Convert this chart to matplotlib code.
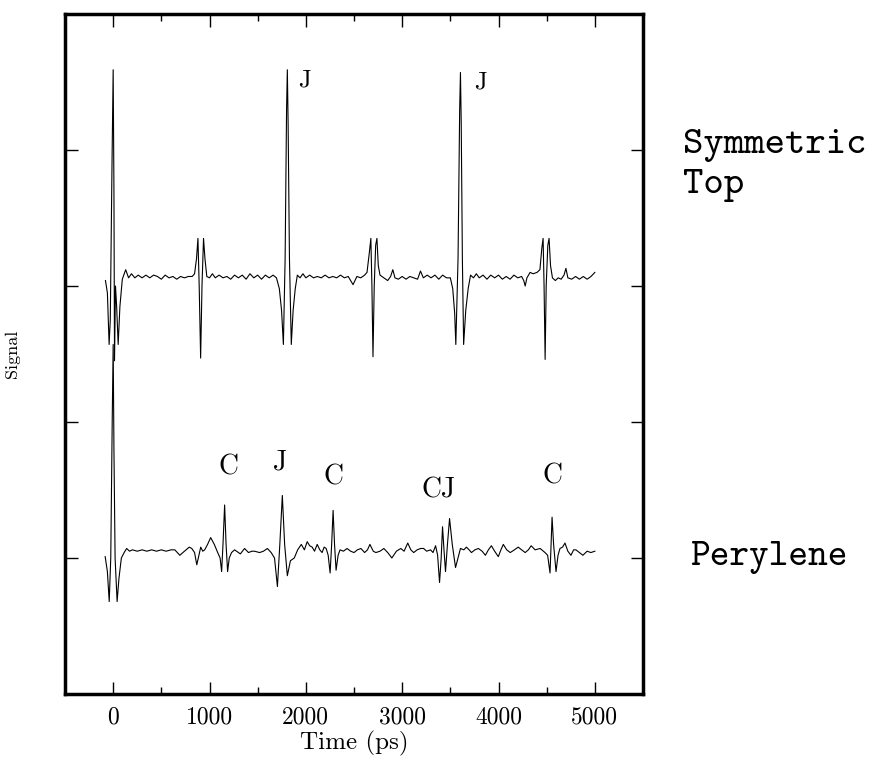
#Time-resolved signal traces: symmetric top model vs. perylene
import numpy as np
import matplotlib
matplotlib.use("Agg")
import matplotlib.pyplot as plt

plt.rcParams['font.family'] = ['cmr10', 'DejaVu Serif']
plt.rcParams['axes.formatter.use_mathtext'] = True

#Symmetric top trace (time in ps, signal in arbitrary units)
sym_t = [-80, -60, -42, -30, -12, 0, 8, 14, 24, 36, 52, 70, 95, 130, 160, 190, 225, 260, 300, 340,
         380, 420, 460, 500, 540, 580, 620, 660, 700, 740, 780, 820, 845, 865, 880, 893, 908, 922, 938, 953,
         972, 1000, 1030, 1060, 1100, 1140, 1180, 1220, 1260, 1300, 1340, 1380, 1420, 1460, 1500, 1540, 1580, 1620, 1660, 1695,
         1725, 1748, 1767, 1785, 1800, 1808, 1816, 1830, 1849, 1868, 1890, 1912, 1940, 1970, 2000, 2040, 2080, 2120, 2160, 2200,
         2240, 2280, 2320, 2360, 2400, 2440, 2490, 2530, 2570, 2610, 2635, 2660, 2675, 2686, 2697, 2710, 2725, 2738, 2752, 2770,
         2810, 2850, 2880, 2903, 2925, 2960, 3000, 3040, 3080, 3120, 3160, 3190, 3220, 3260, 3300, 3340, 3380, 3420, 3460, 3500,
         3525, 3545, 3557, 3580, 3597, 3605, 3613, 3625, 3638, 3660, 3685, 3710, 3740, 3770, 3800, 3840, 3880, 3920, 3960, 4000,
         4040, 4080, 4120, 4160, 4200, 4240, 4262, 4277, 4295, 4328, 4360, 4400, 4430, 4450, 4463, 4473, 4484, 4495, 4512, 4525,
         4540, 4560, 4590, 4620, 4650, 4680, 4700, 4720, 4760, 4800, 4840, 4880, 4920, 4960, 5000]
sym_y = [3.04, 2.95, 2.57, 2.75, 3.90, 4.59, 3.70, 2.45, 3.00, 2.85, 2.57, 2.85, 3.05, 3.12, 3.06, 3.09, 3.06, 3.08, 3.06, 3.08,
         3.06, 3.08, 3.07, 3.05, 3.08, 3.06, 3.07, 3.05, 3.07, 3.06, 3.07, 3.07, 3.09, 3.20, 3.35, 3.00, 2.47, 3.00, 3.35, 3.20,
         3.07, 3.06, 3.09, 3.06, 3.08, 3.06, 3.07, 3.05, 3.08, 3.06, 3.08, 3.05, 3.09, 3.06, 3.08, 3.05, 3.08, 3.06, 3.08, 3.06,
         2.98, 2.82, 2.57, 3.20, 4.30, 4.59, 4.20, 3.20, 2.57, 2.82, 2.98, 3.08, 3.06, 3.09, 3.06, 3.08, 3.06, 3.07, 3.06, 3.08,
         3.06, 3.07, 3.06, 3.08, 3.06, 3.07, 3.01, 3.07, 3.06, 3.08, 3.10, 3.25, 3.35, 3.00, 2.48, 3.00, 3.30, 3.35, 3.15, 3.08,
         3.06, 3.04, 3.07, 3.12, 3.06, 3.05, 3.07, 3.05, 3.07, 3.06, 3.05, 3.11, 3.06, 3.08, 3.06, 3.08, 3.05, 3.08, 3.06, 3.06,
         2.98, 2.80, 2.57, 3.20, 4.30, 4.57, 4.20, 3.20, 2.57, 2.82, 2.98, 3.08, 3.06, 3.09, 3.06, 3.08, 3.05, 3.08, 3.06, 3.08,
         3.05, 3.07, 3.05, 3.08, 3.06, 3.07, 3.04, 3.00, 3.06, 3.10, 3.09, 3.10, 3.12, 3.28, 3.35, 3.00, 2.46, 3.00, 3.30, 3.35,
         3.15, 3.06, 3.04, 3.06, 3.05, 3.08, 3.13, 3.06, 3.05, 3.07, 3.05, 3.07, 3.05, 3.07, 3.10]

#Perylene trace
per_t = [-83, -60, -41, -25, -10, 0, 8, 20, 41, 60, 85, 114, 140, 170, 200, 250, 300, 350, 400, 450,
         500, 550, 600, 640, 692, 740, 790, 816, 845, 868, 890, 909, 930, 950, 980, 1012, 1050, 1085, 1110, 1126,
         1140, 1157, 1172, 1188, 1205, 1229, 1260, 1281, 1320, 1364, 1405, 1440, 1467, 1520, 1560, 1601, 1640, 1675, 1705, 1730,
         1756, 1780, 1808, 1840, 1880, 1915, 1953, 1985, 2014, 2040, 2066, 2090, 2118, 2145, 2169, 2190, 2211, 2232, 2252, 2268,
         2283, 2298, 2314, 2335, 2355, 2390, 2428, 2465, 2500, 2535, 2572, 2610, 2640, 2665, 2700, 2727, 2770, 2810, 2850, 2893,
         2940, 2986, 3020, 3058, 3090, 3120, 3155, 3192, 3223, 3254, 3295, 3320, 3347, 3368, 3388, 3405, 3419, 3435, 3450, 3470,
         3492, 3520, 3554, 3580, 3605, 3640, 3667, 3695, 3719, 3755, 3791, 3830, 3864, 3895, 3926, 3960, 3998, 4025, 4050, 4085,
         4122, 4165, 4205, 4240, 4277, 4310, 4339, 4380, 4432, 4483, 4510, 4535, 4546, 4556, 4572, 4597, 4618, 4638, 4665, 4690,
         4720, 4752, 4780, 4804, 4840, 4876, 4920, 4959, 5000]
per_y = [1.01, 0.90, 0.68, 1.00, 2.00, 2.57, 1.80, 1.00, 0.68, 0.85, 1.00, 1.04, 1.07, 1.05, 1.06, 1.05, 1.06, 1.05, 1.06, 1.05,
         1.06, 1.05, 1.06, 1.06, 1.02, 1.05, 1.08, 1.07, 1.04, 0.95, 1.02, 1.08, 1.05, 1.06, 1.10, 1.15, 1.10, 1.04, 1.00, 0.90,
         1.10, 1.39, 1.10, 0.90, 1.00, 1.04, 1.06, 1.05, 1.03, 1.07, 1.04, 1.05, 1.05, 1.04, 1.05, 1.07, 1.04, 1.00, 0.79, 1.10,
         1.46, 1.10, 0.87, 0.98, 1.00, 1.06, 1.10, 1.06, 1.12, 1.09, 1.08, 1.05, 1.10, 1.06, 1.04, 1.08, 1.07, 1.02, 0.89, 1.10,
         1.35, 1.10, 0.91, 1.02, 1.06, 1.05, 1.07, 1.05, 1.04, 1.06, 1.07, 1.04, 1.06, 1.10, 1.05, 1.04, 1.05, 1.07, 1.04, 1.00,
         1.05, 1.07, 1.05, 1.11, 1.06, 1.04, 1.06, 1.07, 1.07, 1.05, 1.06, 1.04, 1.09, 1.02, 0.82, 1.00, 1.23, 1.05, 0.90, 1.10,
         1.29, 1.10, 0.93, 1.00, 1.07, 1.06, 1.08, 1.06, 1.04, 1.06, 1.07, 1.05, 1.02, 1.06, 1.09, 1.05, 1.01, 1.06, 1.10, 1.06,
         1.04, 1.06, 1.08, 1.06, 1.04, 1.06, 1.09, 1.06, 1.07, 1.04, 1.02, 0.89, 1.10, 1.30, 1.10, 0.90, 1.02, 1.07, 1.08, 1.11,
         1.05, 1.02, 1.06, 1.06, 1.04, 1.02, 1.05, 1.04, 1.05]

#Peak labels
sym_labels = ['J', 'J']
sym_label_t = [1983, 3812]
sym_label_y = [4.51, 4.50]
per_labels = ['C', 'J', 'C', 'CJ', 'C']
per_label_t = [1198, 1736, 2283, 3378, 4556]
per_label_y = [1.67, 1.70, 1.59, 1.50, 1.60]

xticks = [0, 1000, 2000, 3000, 4000, 5000]
xticklabels = ['0', '1000', '2000', '3000', '4000', '5000']

fig = plt.figure(figsize=(8.74, 7.57), dpi=100)
ax = fig.add_axes([65/874, 63/757, 578/874, 680/757])

ax.plot(sym_t, sym_y, '-k', lw=0.8)
ax.plot(per_t, per_y, '-k', lw=0.8)

for s, t, y in zip(sym_labels, sym_label_t, sym_label_y):
    ax.text(t, y, s, fontsize=18, ha='center', va='center')
for s, t, y in zip(per_labels, per_label_t, per_label_y):
    ax.text(t, y, s, fontsize=20, ha='center', va='center')

ax.set_xlim(-500, 5500)
ax.set_ylim(0, 5)
ax.set_xticks(xticks, xticklabels)
ax.set_xticks(np.arange(-500, 5501, 500), minor=True)
ax.set_yticks([1, 2, 3, 4], [])
ax.tick_params(which='both', direction='in', top=True, right=True, width=1)
ax.tick_params(which='major', length=9, labelsize=17, pad=9)
ax.tick_params(which='minor', length=5)
for sp in ax.spines.values():
    sp.set_linewidth(2.5)

ax.set_xlabel("Time (ps)", fontsize=18, labelpad=2)
ax.set_ylabel("Signal", fontsize=13)
ax.yaxis.set_label_coords(-45/578, 0.5)

fig.text(683/874, 1 - 146/757, "Symmetric", family='cmtt10', fontsize=28, va='center', ha='left')
fig.text(683/874, 1 - 186/757, "Top", family='cmtt10', fontsize=28, va='center', ha='left')
fig.text(690/874, 1 - 558/757, "Perylene", family='cmtt10', fontsize=27, va='center', ha='left')

fig.savefig("out.png", dpi=100)
